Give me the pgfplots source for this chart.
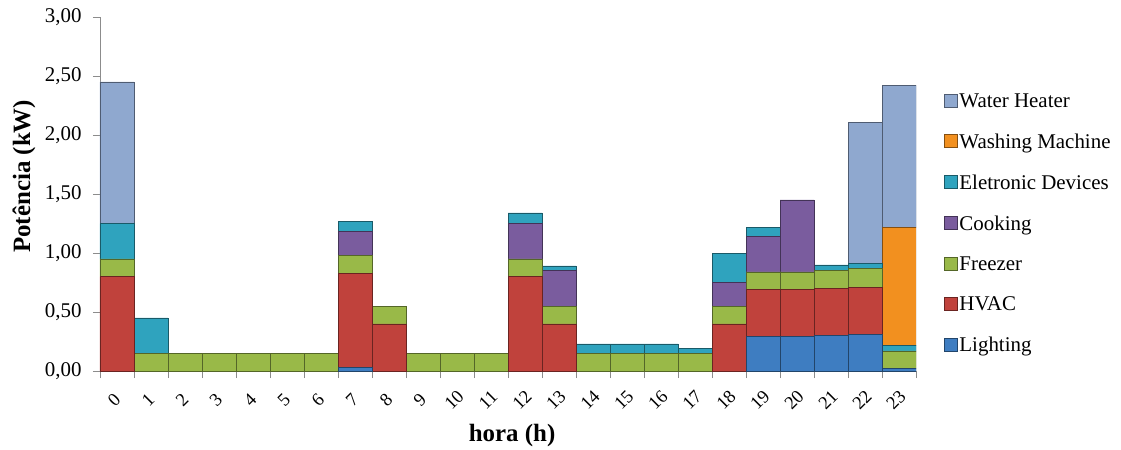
\documentclass[border=0pt]{standalone}
\usepackage{pgfplots}
\pgfplotsset{compat=1.18}
\usepackage{pgfplotstable}
\usepackage{fontspec}
\setmainfont{Liberation Serif}
\definecolor{cL}{HTML}{3E7DC1}
\definecolor{cH}{HTML}{C0423C}
\definecolor{cF}{HTML}{99B948}
\definecolor{cC}{HTML}{7A5C9E}
\definecolor{cE}{HTML}{2FA3BE}
\definecolor{cW}{HTML}{F2901F}
\definecolor{cWH}{HTML}{8FA8CF}
\definecolor{axgray}{HTML}{8C8C8C}
\pgfplotstableread{
h L H F C E W WH
0 0 0.80 0.15 0 0.30 0 1.20
1 0 0 0.15 0 0.30 0 0
2 0 0 0.15 0 0 0 0
3 0 0 0.15 0 0 0 0
4 0 0 0.15 0 0 0 0
5 0 0 0.15 0 0 0 0
6 0 0 0.15 0 0 0 0
7 0.03 0.80 0.15 0.20 0.09 0 0
8 0 0.40 0.15 0 0 0 0
9 0 0 0.15 0 0 0 0
10 0 0 0.15 0 0 0 0
11 0 0 0.15 0 0 0 0
12 0 0.80 0.15 0.30 0.09 0 0
13 0 0.40 0.15 0.30 0.04 0 0
14 0 0 0.15 0 0.08 0 0
15 0 0 0.15 0 0.08 0 0
16 0 0 0.15 0 0.08 0 0
17 0 0 0.15 0 0.04 0 0
18 0 0.40 0.15 0.20 0.25 0 0
19 0.29 0.40 0.15 0.30 0.08 0 0
20 0.29 0.40 0.15 0.61 0 0 0
21 0.30 0.40 0.15 0 0.05 0 0
22 0.31 0.40 0.16 0 0.04 0 1.20
23 0.02 0 0.15 0 0.05 1.00 1.20
}\data
\pgfplotsset{
  bev/.style={fill=#1, draw=#1!55!black, line width=0.6bp},
}
\begin{document}
\begin{tikzpicture}
\path[use as bounding box] (-100bp,-79bp) rectangle (1021bp,371bp);
\begin{axis}[
  at={(0,0)}, anchor=south west,
  scale only axis, width=816bp, height=354bp,
  ybar stacked, bar width=1,
  xmin=-0.5, xmax=23.5, ymin=0, ymax=3,
  axis x line*=bottom, axis y line*=left,
  axis line style={axgray, line width=0.8bp},
  xtick={0,...,23},
  minor xtick={-0.5,0.5,...,23.5},
  ytick={0,0.5,...,3},
  tick align=outside,
  major tick length=7bp, minor tick length=7bp,
  tick style={axgray, line width=0.8bp},
  every major x tick/.append style={draw=none},
  /pgf/number format/assume math mode=true,
  yticklabel style={/pgf/number format/fixed, /pgf/number format/fixed zerofill,
    /pgf/number format/precision=2, /pgf/number format/use comma,
    font=\rmfamily\fontsize{21}{24}\selectfont, xshift=-8bp},
  xticklabel style={font=\rmfamily\fontsize{18.5}{22}\selectfont, inner sep=0pt, yshift=-22bp, xshift=-3bp, rotate=45, anchor=center},
  xlabel={\textbf{hora (h)}},
  ylabel={\textbf{Potência (kW)}},
  label style={font=\rmfamily\fontsize{25}{30}\selectfont},
  xlabel style={at={(axis description cs:0.505,-0.181)}, anchor=center},
  ylabel style={at={(axis description cs:-0.093,0.55)}, anchor=center},
  reverse legend,
  legend cell align=left,
  legend style={draw=none, fill=none, at={(axis description cs:1.034,0.79)}, anchor=north west,
    font=\rmfamily\fontsize{21}{24}\selectfont, row sep=21bp, inner sep=0pt},
  legend image code/.code={\draw[#1, line width=0.5bp] (0bp,-6bp) rectangle (13bp,7bp);},
]
\addplot[bev=cL] table[x=h,y=L]{\data};
\addlegendentry{Lighting}
\addplot[bev=cH] table[x=h,y=H]{\data};
\addlegendentry{HVAC}
\addplot[bev=cF] table[x=h,y=F]{\data};
\addlegendentry{Freezer}
\addplot[bev=cC] table[x=h,y=C]{\data};
\addlegendentry{Cooking}
\addplot[bev=cE] table[x=h,y=E]{\data};
\addlegendentry{Eletronic Devices}
\addplot[bev=cW] table[x=h,y=W]{\data};
\addlegendentry{Washing Machine}
\addplot[bev=cWH] table[x=h,y=WH]{\data};
\addlegendentry{Water Heater}
\end{axis}
\end{tikzpicture}
\end{document}
